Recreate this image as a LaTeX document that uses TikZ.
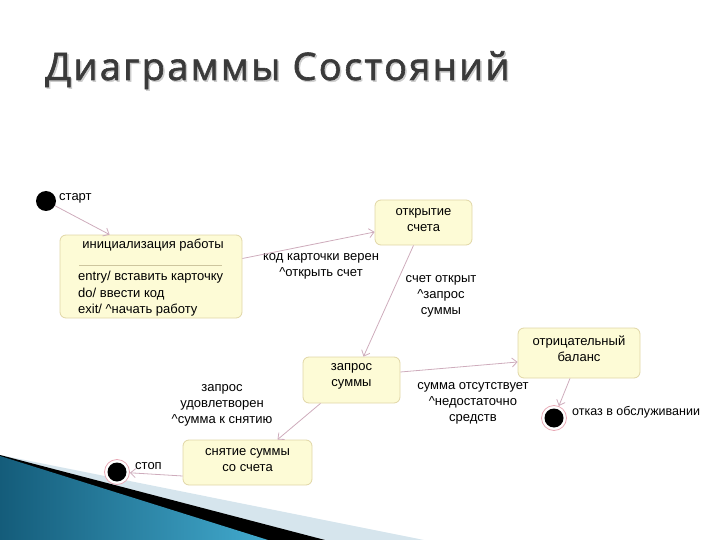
\documentclass[tikz,border=0pt]{standalone}
\usepackage{fontspec}
\setmainfont{Liberation Sans}
\newfontfamily\titlefont[LetterSpace=6,FakeBold=1.6]{Open Sans}
\usetikzlibrary{arrows.meta,calc}
\definecolor{boxfill}{RGB}{253,251,214}
\definecolor{boxline}{RGB}{224,214,166}
\definecolor{linec}{RGB}{206,172,188}
\definecolor{ringc}{RGB}{232,170,182}
\definecolor{titlec}{RGB}{58,58,58}
\definecolor{bandc}{RGB}{214,229,237}
\definecolor{bluedark}{RGB}{20,92,122}
\definecolor{bluelight}{RGB}{66,170,206}
\tikzset{
  statebox/.style={draw=boxline, fill=boxfill, line width=0.8pt, rounded corners=6pt, inner sep=0pt},
  txt/.style={font=\fontsize{13}{16}\selectfont, align=center, inner sep=0pt, text=black},
  ltxt/.style={font=\fontsize{13}{16}\selectfont, align=left, inner sep=0pt, anchor=west, text=black},
  conn/.style={draw=linec, line width=0.8pt, -{Straight Barb[length=5pt,width=9pt]}},
  startstate/.style={circle, fill=black, minimum size=20pt, inner sep=0pt},
  endstate/.style={circle, draw=ringc, line width=0.8pt, fill=white, minimum size=25pt, inner sep=0pt,
    path picture={\fill[black] (path picture bounding box.center) circle (9.5pt);}},
}
\begin{document}
\begin{tikzpicture}[x=1pt, y=-1pt]
\useasboundingbox (0,0) rectangle (720,540);
% background decoration
\fill[bandc] (0,455) -- (424,540) -- (0,540) -- cycle;
\fill[black] (0,455) -- (325,540) -- (0,540) -- cycle;
\shade[left color=bluedark, right color=bluelight] (0,456) -- (268,540) -- (0,540) -- cycle;
% title
\node[anchor=base west, inner sep=0pt, text=black!20, font=\titlefont\fontsize{38}{40}\selectfont] (titleshadow) at (46.5,81.5) {Диаграммы Состояний};
\node[anchor=base west, inner sep=0pt, text=titlec, font=\titlefont\fontsize{38}{40}\selectfont] (title) at (45,80) {Диаграммы Состояний};
% states
\node[startstate] (start) at (46,201) {};
\node[ltxt] (startlbl) at (59,198) {старт};
\node[statebox, minimum width=182pt, minimum height=83pt] (init) at (151,276.5) {};
\node[txt] (inittitle) at (153,245) {инициализация работы};
\draw[draw=boxline!80!gray, line width=0.6pt] (79,265) -- (222,265);
\node[ltxt] (entry1) at (78,277) {entry/ вставить карточку};
\node[ltxt] (entry2) at (78,294) {do/ ввести код};
\node[ltxt] (entry3) at (78,310) {exit/ \^{}начать работу};
\node[statebox, minimum width=97pt, minimum height=45pt] (okr) at (423.5,222.5) {};
\node[txt] (okrtxt) at (423.5,220) {открытие\\счета};
\node[statebox, minimum width=97pt, minimum height=46pt] (zap) at (351.5,380) {};
\node[txt] (zaptxt) at (351.5,376) {запрос\\суммы};
\node[statebox, minimum width=122pt, minimum height=50pt] (otr) at (579,353) {};
\node[txt] (otrtxt) at (579,349) {отрицательный\\баланс};
\node[statebox, minimum width=129pt, minimum height=45pt] (sny) at (247.5,462.5) {};
\node[txt] (snytxt) at (247.5,460) {снятие суммы\\со счета};
\node[endstate] (otk) at (554,418) {};
\node[ltxt, font=\fontsize{12.5}{16}\selectfont] (otklbl) at (572,412) {отказ в обслуживании};
\node[endstate] (stop) at (117,472) {};
\node[ltxt] (stoplbl) at (135,466) {стоп};
% labels
\node[txt] (l1) at (321,266) {код карточки верен\\\^{}открыть счет};
\node[txt] (l2) at (441,296) {счет открыт\\\^{}запрос\\суммы};
\node[txt] (l3) at (222,405) {запрос\\удовлетворен\\\^{}сумма к снятию};
\node[txt] (l4) at (473,403) {сумма отсутствует\\\^{}недостаточно\\средств};
% connectors
\draw[conn] (start) -- ([xshift=50pt]init.north west);
\draw[conn] ([yshift=18pt]init.east) -- ([yshift=-9.5pt]okr.west);
\draw[conn] ([xshift=-10pt]okr.south) -- ([xshift=12pt]zap.north);
\draw[conn] ([xshift=-31pt]zap.south) -- ([xshift=30pt]sny.north);
\draw[conn] ([yshift=8pt]zap.east) -- ([yshift=-9pt]otr.west);
\draw[conn] ([xshift=-9pt]otr.south) -- (otk);
\draw[conn] ([yshift=-13.5pt]sny.west) -- (stop);
\end{tikzpicture}
\end{document}
